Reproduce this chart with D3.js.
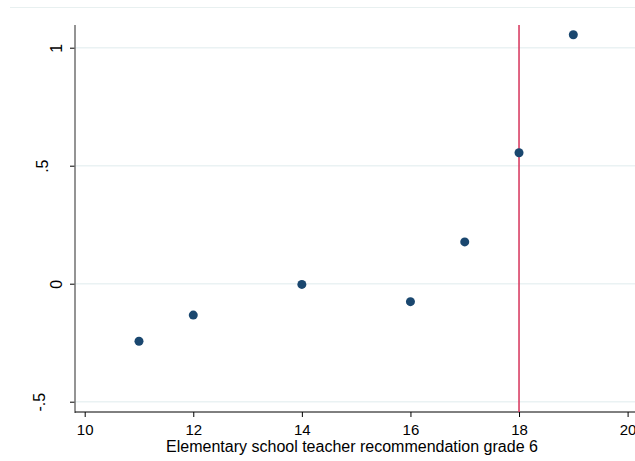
<!DOCTYPE html>
<html><head><meta charset="utf-8">
<script src="https://cdn.jsdelivr.net/npm/d3@7"></script>
<style>body{margin:0;background:#fff}svg{display:block;font-family:"Liberation Sans",Arial,sans-serif}</style>
</head><body>
<svg id="c" width="635" height="461"></svg>
<script>
const xValues = [11, 12, 14, 16, 17, 18, 19];
const yValues = [-0.244, -0.133, -0.003, -0.076, 0.177, 0.555, 1.055];
const xTicks = [10, 12, 14, 16, 18, 20];
const yTicks = [-0.5, 0, 0.5, 1];
const yTickLabels = ["-.5", "0", ".5", "1"];
const cutoff = [18];
const xTitle = "Elementary school teacher recommendation grade 6";

const svg = d3.select("#c");
const x = d3.scaleLinear().domain([10, 20]).range([84.7, 627.6]);
const y = d3.scaleLinear().domain([-0.5, 1]).range([401.7, 47.7]);
const mLeft = 75, mBottom = 412, mTop = 25, mRight = 640;

svg.append("line").attr("x1", 10).attr("x2", 635).attr("y1", 7.5).attr("y2", 7.5)
  .attr("stroke", "#e8f0f0").attr("stroke-width", 1);

svg.append("g").selectAll("line").data(yTicks).join("line")
  .attr("x1", mLeft).attr("x2", mRight)
  .attr("y1", d => y(d)).attr("y2", d => y(d))
  .attr("stroke", "#eaf2f3").attr("stroke-width", 1.5);

const yAxis = d3.axisLeft(y).tickValues(yTicks).tickSize(5).tickPadding(6)
  .tickFormat((d, i) => yTickLabels[i]);
const gy = svg.append("g").attr("transform", `translate(${mLeft},0)`).call(yAxis);
gy.select(".domain").remove();
gy.selectAll(".tick line").attr("stroke", "#000");
gy.selectAll(".tick text").attr("font-size", 16).attr("fill", "#000")
  .attr("text-anchor", "middle").attr("dy", 0)
  .attr("transform", "rotate(-90)")
  .attr("x", 0).attr("y", (d, i) => {
    const s = yTickLabels[i];
    return s.startsWith("-") ? -30 : (s.includes(".") ? -27 : -13);
  });
svg.append("line").attr("x1", mLeft).attr("x2", mLeft).attr("y1", mTop).attr("y2", mBottom + 1)
  .attr("stroke", "#707070").attr("stroke-width", 1.5);

const xAxis = d3.axisBottom(x).tickValues(xTicks).tickSize(5).tickPadding(7).tickFormat(d3.format("d"));
const gx = svg.append("g").attr("transform", `translate(0,${mBottom})`).call(xAxis);
gx.select(".domain").remove();
gx.selectAll(".tick line").attr("stroke", "#000");
gx.selectAll(".tick text").attr("font-size", 15).attr("fill", "#000");
svg.append("line").attr("x1", mLeft).attr("x2", mRight).attr("y1", mBottom).attr("y2", mBottom)
  .attr("stroke", "#000").attr("stroke-width", 1);

svg.append("text").attr("x", 352).attr("y", 452).attr("text-anchor", "middle")
  .attr("font-size", 16).attr("fill", "#000").text(xTitle);

svg.append("g").selectAll("line").data(cutoff).join("line")
  .attr("x1", d => x(d)).attr("x2", d => x(d)).attr("y1", mTop).attr("y2", mBottom)
  .attr("stroke", "#d6325a").attr("stroke-width", 1.5);

svg.append("g").selectAll("circle").data(xValues).join("circle")
  .attr("cx", d => x(d)).attr("cy", (d, i) => y(yValues[i])).attr("r", 4.5)
  .attr("fill", "#1a476f");
</script>
</body></html>
